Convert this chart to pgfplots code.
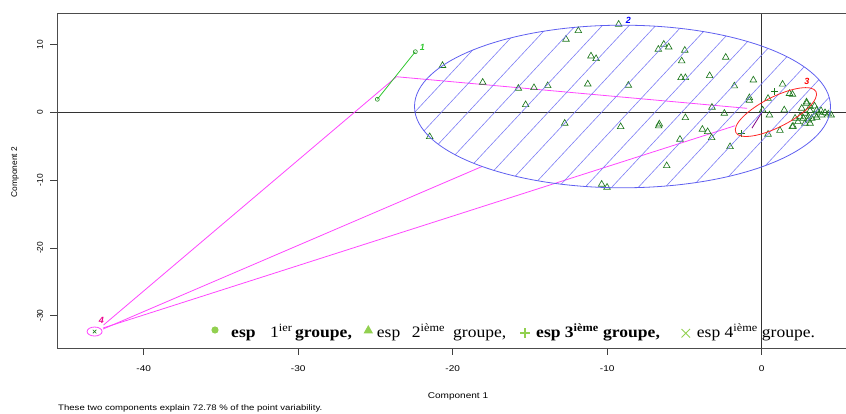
\documentclass[border=0pt]{standalone}
\usepackage{pgfplots}
\pgfplotsset{compat=1.18}
\usepackage{fontspec}
\setmainfont{Liberation Serif}
\setsansfont{Liberation Sans}
\definecolor{tri}{RGB}{30,120,30}
\definecolor{lg}{RGB}{146,208,80}
\definecolor{hatch}{RGB}{125,125,245}
\definecolor{ell}{RGB}{95,95,240}
\definecolor{mag}{RGB}{255,70,255}
\definecolor{grn}{RGB}{50,200,50}
\newcommand{\rf}{\sffamily\fontsize{8.4}{10}\selectfont}
\newcommand{\lf}{\fontsize{16}{18}\selectfont}
\begin{document}
\begin{tikzpicture}
\begin{axis}[
  at={(57.5bp,66bp)}, anchor=south west,
  scale only axis, width=788.5bp, height=335bp,
  xmin=-45.58, xmax=5.456, ymin=-34.76, ymax=14.65,
  axis line style={draw=none},
  tick pos=left, tick align=outside,
  major tick length=7bp,
  tick style={black!75, line width=0.6bp},
  xtick={-40,-30,-20,-10,0}, ytick={-30,-20,-10,0,10},
  /pgf/number format/assume math mode=true,
  xticklabel style={font=\rf, xscale=1.2, yshift=-7bp},
  yticklabel style={font=\rf, rotate=90, anchor=south, yshift=4bp},
]
\coordinate (c0) at (axis cs:0,0);
\coordinate (c2) at (axis cs:-9.01,0.86);
\coordinate (c3) at (axis cs:0.92,0.04);
\coordinate (c4) at (axis cs:-43.18,-32.33);
\draw[black!80, line width=0.6bp] (axis cs:0,-34.76) -- (axis cs:0,14.65);
\draw[black!80, line width=0.6bp] (axis cs:-45.58,0) -- (axis cs:5.456,0);
% lines between clusters
\addplot[mag, line width=0.8bp] coordinates {(-23.64,5.25) (-0.95,0.59)};
\addplot[mag, line width=0.8bp] coordinates {(-23.64,5.25) (-42.60,-31.37)};
\addplot[mag, line width=0.8bp] coordinates {(-18.10,-7.99) (-42.63,-31.96)};
\addplot[mag, line width=0.8bp] coordinates {(-1.73,-1.98) (-42.63,-31.81)};
\addplot[violet, line width=0.8bp] coordinates {(-0.63,-2.33) (0.02,0.04)};
% cluster 1 segment
\addplot[grn, line width=0.8bp] coordinates {(-24.88,1.92) (-22.42,8.94)};
\addplot[only marks, mark=o, mark size=2bp, mark options={draw=tri!70!grn, line width=0.6bp}] coordinates {(-24.88,1.92) (-22.42,8.94)};
% triangles
\addplot[only marks, mark=triangle, mark size=3.8bp, mark options={draw=tri, fill=none, line width=0.65bp}] table {
x y
-9.26 12.98
-11.87 12.04
-12.67 10.77
-20.66 6.90
-11.05 8.30
-10.72 7.91
-6.69 9.29
-6.34 10.03
-6.02 9.63
-4.98 9.14
-5.18 7.57
-2.33 8.11
-3.37 5.40
-5.22 5.10
-4.94 5.10
-18.06 4.42
-15.75 3.54
-14.74 3.63
-13.85 3.92
-11.26 4.17
-8.63 3.98
-1.77 3.88
-0.54 4.76
1.35 4.14
1.80 2.77
1.99 2.65
-0.80 2.15
-0.80 1.77
0.41 2.04
-15.28 1.12
-3.22 0.74
-2.42 -0.15
0.06 0.34
0.50 -0.40
1.46 0.34
2.90 1.52
-12.75 -1.62
-9.13 -2.12
-6.63 -1.73
-6.67 -2.02
-4.94 -0.80
-21.49 -3.60
-3.84 -2.51
-3.50 -2.86
-3.24 -3.75
-5.29 -3.98
-2.05 -5.07
0.41 -3.24
1.18 -2.68
1.98 -2.12
2.16 -0.88
-6.15 -7.88
-10.36 -10.62
-10.01 -11.06
2.59 0.59
2.91 1.33
3.13 0.83
3.42 0.93
3.13 0.24
3.56 0.34
3.84 0.24
4.10 -0.06
4.31 -0.25
2.80 -0.15
2.48 -0.65
2.69 -0.88
3.02 -0.65
3.24 -0.88
3.56 -0.74
3.45 -0.40
2.80 -1.62
3.13 -1.62
2.03 -2.06
2.35 -1.39
3.88 -0.40
3.02 -1.14
3.64 0.04
4.49 -0.40
};
\addplot[only marks, mark=+, mark size=3.5bp, mark options={draw=tri, line width=0.7bp}] coordinates {(0.83,3.07) (-1.29,-3.13)};
\addplot[only marks, mark=x, mark size=2.5bp, mark options={draw=tri, line width=0.6bp}] coordinates {(-43.18,-32.33)};
% cluster labels
\node[grn, font=\sffamily\itshape\bfseries\fontsize{9}{10}\selectfont] at (axis cs:-21.97,9.53) {1};
\node[blue, font=\sffamily\itshape\bfseries\fontsize{9}{10}\selectfont] at (axis cs:-8.63,13.61) {2};
\node[red, font=\sffamily\itshape\bfseries\fontsize{9}{10}\selectfont] at (axis cs:2.93,4.62) {3};
\node[magenta, font=\sffamily\itshape\bfseries\fontsize{9}{10}\selectfont] at (axis cs:-42.74,-30.63) {4};
\end{axis}
% ellipses and shading
\begin{scope}
\clip (c2) ellipse [x radius=208bp, y radius=81.3bp];
\foreach \k in {-6,...,22} {
  \draw[hatch, line width=0.6bp] ([xshift=-\k*26.7bp]c0) ++(227:200bp) -- ++(47:400bp);
}
\end{scope}
\draw[ell, line width=0.8bp] (c2) ellipse [x radius=208bp, y radius=81.3bp];
\draw[red!85, line width=0.8bp, rotate around={27:(c3)}] (c3) ellipse [x radius=45bp, y radius=15bp];
\draw[mag, line width=0.8bp] (c4) ellipse [x radius=7.5bp, y radius=4.5bp];
% frame
\draw[black!70, line width=0.7bp] (846bp,401bp) -- (57.5bp,401bp) -- (57.5bp,66bp) -- (846bp,66bp);
% axis titles
\node[font=\rf, xscale=1.2] at (458bp,18bp) {Component 1};
\node[font=\rf, rotate=90] at (15bp,242bp) {Component 2};
\node[font=\sffamily\fontsize{8}{9}\selectfont, anchor=base west, inner sep=0, xscale=1.2] at (58bp,3.5bp) {These two components explain 72.78 \% of the point variability.};
% legend
\fill[lg] (215bp,84bp) circle (3.6bp);
\node[anchor=base west, inner sep=0, xscale=1.1] at (231bp,76bp) {\lf\bfseries esp};
\node[anchor=base west, inner sep=0, xscale=1.1] at (270bp,76bp) {\lf 1\textsuperscript{ier}};
\node[anchor=base west, inner sep=0, xscale=1.1] at (295bp,76bp) {\lf\bfseries groupe,};
\fill[lg] (368.3bp,89bp) -- (363.5bp,80.5bp) -- (373.1bp,80.5bp) -- cycle;
\node[anchor=base west, inner sep=0, xscale=1.1] at (376.7bp,76bp) {\lf esp};
\node[anchor=base west, inner sep=0, xscale=1.1] at (411.7bp,76bp) {\lf 2\textsuperscript{ième}};
\node[anchor=base west, inner sep=0, xscale=1.1] at (453bp,76bp) {\lf groupe,};
\draw[lg, line width=1.2bp] (520bp,81bp) -- (530bp,81bp) (525bp,76bp) -- (525bp,86bp);
\node[anchor=base west, inner sep=0, xscale=1.1] at (536bp,76bp) {\lf\bfseries esp 3\textsuperscript{ième}};
\node[anchor=base west, inner sep=0, xscale=1.1] at (603bp,76bp) {\lf\bfseries groupe,};
\draw[lg, line width=1bp] (681.5bp,76.5bp) -- (690bp,85bp) (681.5bp,85bp) -- (690bp,76.5bp);
\node[anchor=base west, inner sep=0, xscale=1.1] at (696.7bp,76bp) {\lf esp 4\textsuperscript{ième}};
\node[anchor=base west, inner sep=0, xscale=1.1] at (761.7bp,76bp) {\lf groupe.};
\pgfresetboundingbox
\useasboundingbox (0,0) rectangle (846bp,414bp);
\end{tikzpicture}
\end{document}
